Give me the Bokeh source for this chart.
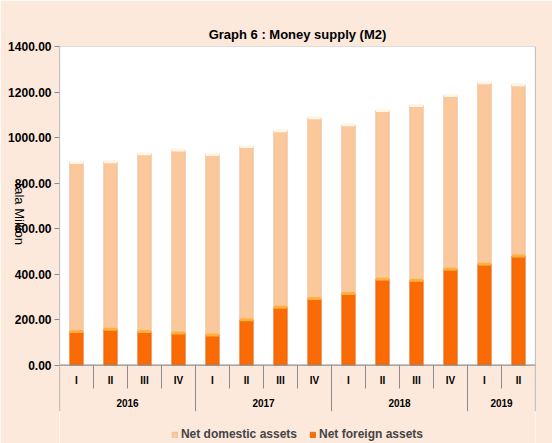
import numpy as np
from bokeh.plotting import figure
from bokeh.models import (Range1d, FixedTicker, PrintfTickFormatter, BoxAnnotation,
                          Legend, LegendItem, ColumnDataSource)
from bokeh.core.properties import value
from bokeh.embed import file_html
from bokeh.resources import INLINE

# ---- data ----
years = ["2016", "2017", "2018", "2019"]
year_sizes = [4, 4, 4, 2]
quarters = ["I", "II", "III", "IV", "I", "II", "III", "IV", "I", "II", "III", "IV", "I", "II"]
foreign = [148, 158, 148, 141, 133, 200, 255, 293, 315, 378, 373, 422, 444, 480]
domestic = [742, 736, 781, 804, 793, 761, 775, 794, 741, 741, 768, 763, 797, 752]
y_ticks = [0, 200, 400, 600, 800, 1000, 1200, 1400]

FONT = "Liberation Sans"
PEACH = "#FCE9DC"
DOM = "#FBC89B"
FOR = "#FA6A05"
GRID = "#8C8C8C"

n = len(quarters)
xs = [i + 0.5 for i in range(n)]
total = [f + d for f, d in zip(foreign, domestic)]
y_top = y_ticks[-1]
y_bottom = -344
q_len = -102
y_len = -202

src = ColumnDataSource(dict(x=xs, foreign=foreign, domestic=domestic, total=total, q=quarters))

p = figure(width=552, height=443, x_range=Range1d(0, n), y_range=Range1d(y_bottom, y_top),
           output_backend="svg", toolbar_location=None, x_axis_location=None,
           min_border_left=59, min_border_right=17, min_border_top=46, min_border_bottom=0)
p.background_fill_color = "white"
p.border_fill_color = PEACH
p.outline_line_color = None
p.xgrid.visible = False
p.ygrid.visible = False

p.title.text = "Graph 6 : Money supply (M2)"
p.title.align = "center"
p.title.text_font = FONT
p.title.text_font_size = "13px"
p.title.text_font_style = "bold"
p.title.text_color = "black"
p.title.standoff = 10

# lower band (category axis area) is peach
p.add_layout(BoxAnnotation(top=0, fill_color=PEACH, fill_alpha=1, line_color=None, level="underlay"))

# y axis
ya = p.yaxis[0]
ya.ticker = FixedTicker(ticks=y_ticks)
ya.formatter = PrintfTickFormatter(format="%.2f")
ya.axis_line_color = None
ya.major_tick_line_color = GRID
ya.major_tick_out = 5
ya.major_tick_in = 0
ya.minor_tick_line_color = None
ya.major_label_text_font = FONT
ya.major_label_text_font_size = "12px"
ya.major_label_text_font_style = "bold"
ya.major_label_text_color = "black"
ya.major_label_standoff = 3
ya.axis_label = "Tala Million"
ya.axis_label_text_font = FONT
ya.axis_label_text_font_size = "13px"
ya.axis_label_text_font_style = "normal"
ya.axis_label_text_color = "black"
ya.axis_label_standoff = -14
ya.axis_label_orientation = -np.pi / 2

# bars
r_for = p.vbar(x="x", bottom=0, top="foreign", width=0.4, source=src,
               fill_color=FOR, line_color="#D85800", line_width=0.5)
r_dom = p.vbar(x="x", bottom="foreign", top="total", width=0.4, source=src,
               fill_color=DOM, line_color="#E2AE86", line_width=0.5)
p.rect(x="x", y="foreign", width=0.38, height=3, height_units="screen", source=src,
       fill_color="#FFB040", line_color=None)
p.rect(x="x", y="total", width=0.38, height=3, height_units="screen", source=src,
       fill_color="#FFF6E8", line_color=None)

# axis frame lines
p.segment(x0=[0, 0, n], y0=[y_len, 0, y_len], x1=[0, n, n], y1=[y_top, 0, y_top],
          line_color=GRID, line_width=1.2)
p.segment(x0=[0], y0=[y_top], x1=[n], y1=[y_top], line_color="#BDBDBD", line_width=1)

# quarter separators
qb = list(range(1, n))
p.segment(x0=qb, y0=[0] * len(qb), x1=qb, y1=[q_len] * len(qb), line_color=GRID, line_width=1)
# year separators
yb = list(np.cumsum(year_sizes)[:-1])
p.segment(x0=yb, y0=[0] * len(yb), x1=yb, y1=[y_len] * len(yb), line_color=GRID, line_width=1)

# quarter labels
p.text(x="x", y=-67, text="q", source=src, text_align="center", text_baseline="middle",
       text_font=value(FONT), text_font_size="10px", text_font_style="bold", text_color="black")
# year labels
starts = [0] + list(np.cumsum(year_sizes)[:-1])
ycent = [s + sz / 2 for s, sz in zip(starts, year_sizes)]
p.text(x=ycent, y=[-167] * len(years), text=years, text_align="center", text_baseline="middle",
       text_font=value(FONT), text_font_size="10px", text_font_style="bold", text_color="black")

legend = Legend(items=[LegendItem(label="Net domestic assets", renderers=[r_dom]),
                       LegendItem(label="Net foreign assets", renderers=[r_for])],
                location="bottom_center", orientation="horizontal",
                glyph_width=7, glyph_height=7, label_text_font=FONT,
                label_text_font_size="12px", label_text_font_style="bold",
                label_standoff=3, spacing=12, padding=2, margin=2,
                background_fill_alpha=0, border_line_color=None)
p.add_layout(legend)

open("out.html", "w").write(file_html(p, INLINE))
